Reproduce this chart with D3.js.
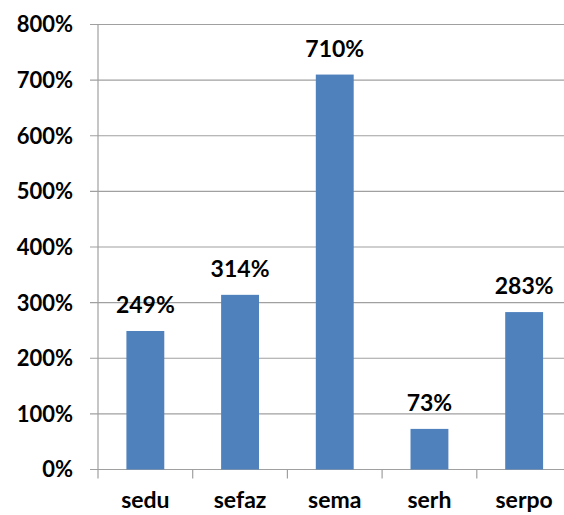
<!doctype html>
<html lang="en">
  <head>
    <meta charset="utf-8">
    <title>Bar chart</title>
    <style>
      body{ margin: 0; background: #fff; }
      text{ font-family: Lato, "Open Sans", sans-serif; font-weight: bold; fill: #000; }
    </style>
  </head>
  <body>
    <svg id="chart" width="564" height="515"></svg>
    <script src="https://d3js.org/d3.v7.min.js"></script>
    <script>
      //chart data
      var categories = ["sedu", "sefaz", "sema", "serh", "serpo"];
      var values = [249, 314, 710, 73, 283];
      var yTicks = [0, 100, 200, 300, 400, 500, 600, 700, 800];

      var svg = d3.select("#chart");

      //scales
      var x = d3.scaleBand()
        .domain(categories)
        .range([98, 571.5])
        .paddingInner(0.6)
        .paddingOuter(0.3);

      var y = d3.scaleLinear()
        .domain([0, 800])
        .range([469.5, 24.5]);

      //gridlines
      svg.append("g")
        .selectAll("line")
        .data(yTicks)
        .enter()
        .append("line")
        .attr("x1", 90)
        .attr("x2", 564)
        .attr("y1", function(d){ return y(d); })
        .attr("y2", function(d){ return y(d); })
        .style("stroke", "#a0a0a0")
        .style("stroke-width", 1.2);

      //y axis labels
      svg.append("g")
        .selectAll("text")
        .data(yTicks)
        .enter()
        .append("text")
        .attr("x", 73)
        .attr("y", function(d){ return y(d); })
        .attr("dy", "0.36em")
        .attr("text-anchor", "end")
        .style("font-size", "22px")
        .text(function(d){ return d + "%"; });

      //y axis line
      svg.append("line")
        .attr("x1", 98).attr("x2", 98)
        .attr("y1", y(800)).attr("y2", y(0))
        .style("stroke", "#a0a0a0")
        .style("stroke-width", 1.2);

      //category tick marks
      var step = x.step();
      var edges = categories.map(function(d){ return x(d) - (step - x.bandwidth()) / 2; });
      svg.append("g")
        .selectAll("line")
        .data(edges)
        .enter()
        .append("line")
        .attr("x1", function(d){ return d; })
        .attr("x2", function(d){ return d; })
        .attr("y1", y(0))
        .attr("y2", y(0) + 9)
        .style("stroke", "#a0a0a0")
        .style("stroke-width", 1.2);

      //bars
      svg.append("g")
        .selectAll("rect")
        .data(values)
        .enter()
        .append("rect")
        .attr("x", function(d, i){ return x(categories[i]); })
        .attr("y", function(d){ return y(d); })
        .attr("width", x.bandwidth())
        .attr("height", function(d){ return y(0) - y(d); })
        .style("fill", "#4f81bd");

      //value labels
      svg.append("g")
        .selectAll("text")
        .data(values)
        .enter()
        .append("text")
        .attr("x", function(d, i){ return x(categories[i]) + x.bandwidth() / 2; })
        .attr("y", function(d){ return y(d) - 18; })
        .attr("text-anchor", "middle")
        .style("font-size", "23px")
        .text(function(d){ return d + "%"; });

      //category labels
      svg.append("g")
        .selectAll("text")
        .data(categories)
        .enter()
        .append("text")
        .attr("x", function(d){ return x(d) + x.bandwidth() / 2; })
        .attr("y", 508)
        .attr("text-anchor", "middle")
        .style("font-size", "23px")
        .text(function(d){ return d; });
    </script>
  </body>
</html>
